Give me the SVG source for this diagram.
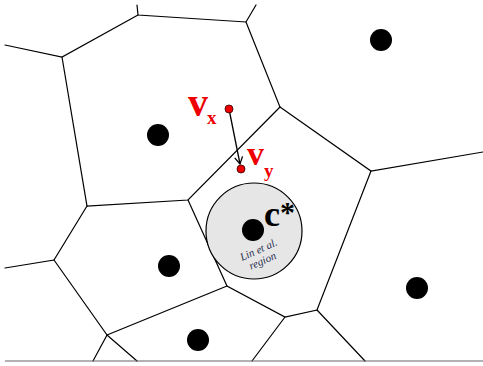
<svg xmlns="http://www.w3.org/2000/svg" width="483" height="366" viewBox="0 0 483 366">
<style>
.edge{stroke:#000;stroke-width:1.2;fill:none;stroke-linecap:round}
.site{fill:#000}
.pt{fill:#e00;stroke:#300;stroke-width:0.8}
.lbl{font-family:"Liberation Serif",serif;font-weight:bold;fill:#e00}
.lin{font-family:"Liberation Serif",serif;font-style:italic;font-size:11px;fill:#2a3050;text-anchor:middle}
</style>
<defs>
<marker id="arr" markerWidth="10" markerHeight="10" refX="8" refY="5" orient="auto" markerUnits="userSpaceOnUse">
<path d="M1,1 L8,5 L1,9" fill="none" stroke="#000" stroke-width="1.3"/>
</marker>
</defs>
<rect width="483" height="366" fill="#fff"/>
<g id="voronoi-edges">
<path class="edge" d="M137,5 L138,15 L246,22 L256,5"/>
<path class="edge" d="M5,45 L62,57 L138,15"/>
<path class="edge" d="M62,57 L87,206 L188,200 L280,107 L246,22"/>
<path class="edge" d="M280,107 L371,171 L483,152"/>
<path class="edge" d="M371,171 L317,310 L285,317 L227,286 L188,200"/>
<path class="edge" d="M87,206 L54,260 L5,268"/>
<path class="edge" d="M54,260 L107,335 L93,361"/>
<path class="edge" d="M107,335 L137,361"/>
<path class="edge" d="M107,335 L227,286"/>
<path class="edge" d="M285,317 L252,361"/>
<path class="edge" d="M317,310 L365,361"/>
<line x1="5" y1="361" x2="483" y2="361" stroke="#666" stroke-width="1.2"/>
</g>
<g id="lin-region">
<circle cx="254" cy="231" r="48" fill="#e6e6e6" stroke="#000" stroke-width="1.2"/>
<text class="lin" x="260" y="253" transform="rotate(-24 260 253)">Lin et al.</text>
<text class="lin" x="264" y="264" transform="rotate(-24 264 264)">region</text>
</g>
<g id="sites">
<circle class="site" cx="381" cy="40" r="11"/>
<circle class="site" cx="158" cy="135" r="11"/>
<circle class="site" cx="169" cy="266" r="11"/>
<circle class="site" cx="198" cy="340" r="11"/>
<circle class="site" cx="417" cy="288" r="11"/>
<circle class="site" cx="253" cy="230" r="11"/>
</g>
<g id="c-star">
<text x="264" y="226" font-family="Liberation Serif,serif" font-weight="bold" font-size="36" fill="#000">c</text>
<text x="280" y="222" font-family="Liberation Serif,serif" font-weight="bold" font-size="30" fill="#000">*</text>
</g>
<g id="connectors">
<line x1="229" y1="109" x2="240" y2="164" stroke="#000" stroke-width="1.3" marker-end="url(#arr)"/>
</g>
<g id="vx">
<circle class="pt" cx="229" cy="109" r="4"/>
<text class="lbl" x="188" y="116" font-size="40">v</text>
<text class="lbl" x="207" y="124" font-size="19">x</text>
</g>
<g id="vy">
<circle class="pt" cx="241" cy="169" r="4"/>
<text class="lbl" x="247" y="165" font-size="34">v</text>
<text class="lbl" x="264" y="177" font-size="19">y</text>
</g>
</svg>
